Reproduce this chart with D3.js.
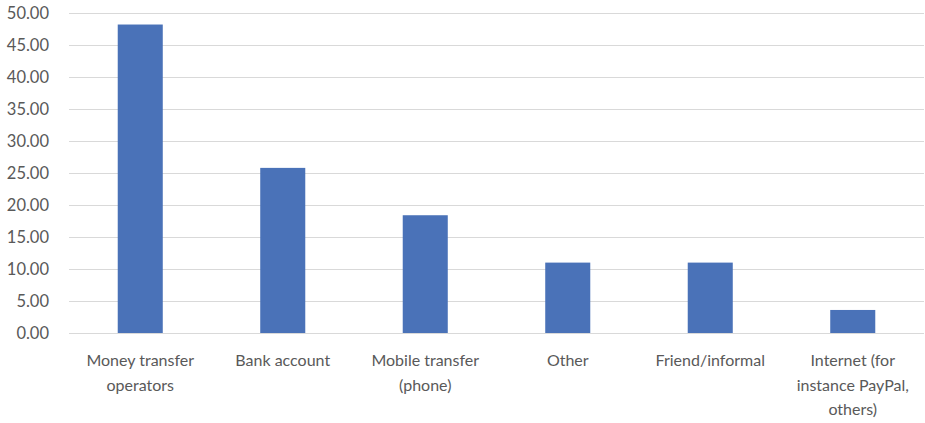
<!DOCTYPE html>
<html><head><meta charset="utf-8">
<script src="https://cdn.jsdelivr.net/npm/d3@7"></script>
<style>body{margin:0;background:#fff}svg{display:block}text{font-family:Lato,"Open Sans",sans-serif;fill:#595959;font-weight:400}</style>
</head><body><svg id="c" width="925" height="423"></svg>
<script>
const categories = ["Money transfer|operators","Bank account","Mobile transfer|(phone)","Other","Friend/informal","Internet (for|instance PayPal,|others)"];
const values = [48.2, 25.8, 18.4, 11.0, 11.0, 3.6];
const yTicks = [0,5,10,15,20,25,30,35,40,45,50];

const svg = d3.select("#c");
const m = {l:69, r:1, t:13, b:90};
const W = 925, H = 423;
const x = d3.scaleBand().domain(categories).range([m.l, W-m.r]).paddingInner(0.684).paddingOuter(0.342);
const y = d3.scaleLinear().domain([0,50]).range([333, 13]);

const grid = svg.append("g");
grid.selectAll("line").data(yTicks).join("line")
  .attr("x1", m.l).attr("x2", W-m.r)
  .attr("y1", d=>Math.round(y(d))+0.5).attr("y2", d=>Math.round(y(d))+0.5)
  .attr("stroke", "#d9d9d9").attr("stroke-width", 1);

const yAxis = d3.axisLeft(y).tickValues(yTicks).tickFormat(d=>d3.format(".2f")(d)).tickSize(0).tickPadding(0);
const ga = svg.append("g").attr("transform","translate(49,0)").call(yAxis);
ga.select(".domain").remove();
ga.selectAll("text").style("font-size","16.5px").style("fill","#595959").style("font-family","Lato, sans-serif").style("font-weight","400");

svg.append("g").selectAll("rect").data(values).join("rect")
  .attr("x", (d,i)=>x(categories[i])).attr("width", x.bandwidth())
  .attr("y", d=>y(d)).attr("height", d=>y(0)-y(d))
  .attr("fill", "#4a72b8");

const xl = svg.append("g");
categories.forEach(c=>{
  const t = xl.append("text").attr("text-anchor","middle").style("font-size","16px")
    .attr("x", x(c)+x.bandwidth()/2);
  c.split("|").forEach((line,j)=>{
    t.append("tspan").attr("x", x(c)+x.bandwidth()/2).attr("y", 366+j*24.5).text(line);
  });
});
</script></body></html>
